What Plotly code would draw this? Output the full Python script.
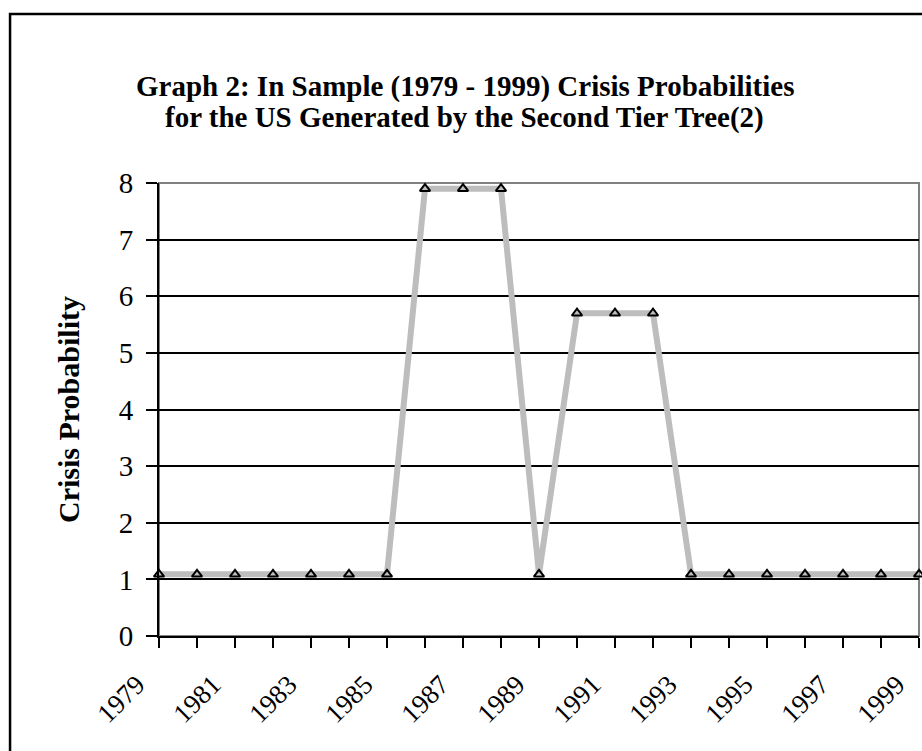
import plotly.graph_objects as go

# Crisis probabilities
years = list(range(1979, 2000))
probs = [1.09, 1.09, 1.09, 1.09, 1.09, 1.09, 1.09,
         7.9, 7.9, 7.9,
         1.09,
         5.7, 5.7, 5.7,
         1.09, 1.09, 1.09, 1.09, 1.09, 1.09, 1.09]
tick_years = list(range(1979, 2000, 2))
y_ticks = list(range(0, 9))
title_lines = ['Graph 2: In Sample (1979 - 1999) Crisis Probabilities',
               'for the US Generated by the Second Tier Tree(2)']

serif = 'Liberation Serif, Times New Roman, serif'

fig = go.Figure()

fig.add_trace(go.Scatter(
    x=years, y=probs,
    mode='lines+markers',
    line=dict(color='#bdbdbd', width=6),
    marker=dict(symbol='triangle-up-open', size=9, color='black',
                line=dict(color='black', width=2)),
    cliponaxis=False,
    showlegend=False,
))

# outer frame (runs off the right and bottom edges like the original)
fig.add_shape(type='rect', xref='paper', yref='paper',
              x0=-0.196, x1=1.05, y0=-0.4, y1=1.373,
              line=dict(color='black', width=2.5))
# grey plot-area border
fig.add_shape(type='rect', xref='paper', yref='paper',
              x0=0, x1=1, y0=0, y1=1,
              line=dict(color='#808080', width=2), layer='below')

# two title lines, set as annotations to get the tighter line spacing
for txt, ypos in zip(title_lines, [1.214, 1.1435]):
    fig.add_annotation(text='<b>' + txt + '</b>', xref='paper', yref='paper',
                       x=0.4026, y=ypos, xanchor='center', yanchor='middle',
                       showarrow=False, font=dict(size=29, family=serif))

fig.update_layout(
    width=922, height=751,
    margin=dict(l=159, r=3, t=183, b=115),
    paper_bgcolor='white', plot_bgcolor='white',
    font=dict(family=serif, color='black'),
    xaxis=dict(
        range=[1979, 1999], tickmode='array', tickvals=tick_years,
        ticktext=[str(y) for y in tick_years],
        tickangle=-45, tickfont=dict(size=27),
        showgrid=False, zeroline=False,
        showline=True, linecolor='black', linewidth=2,
        ticks='outside', ticklen=10, tickwidth=2, tickcolor='black',
        ticklabelstandoff=10, ticklabelshift=-22,
        minor=dict(dtick=1, tick0=1979, ticks='outside', ticklen=10,
                   tickwidth=2, tickcolor='black', showgrid=False),
    ),
    yaxis=dict(
        range=[0, 8], tickvals=y_ticks, tickfont=dict(size=29),
        title=dict(text='<b>Crisis Probability</b>', font=dict(size=30), standoff=30),
        showgrid=True, gridcolor='black', gridwidth=1.5, zeroline=False,
        showline=True, linecolor='black', linewidth=2,
        ticks='outside', ticklen=11, tickwidth=2, tickcolor='black',
        ticklabelstandoff=7,
    ),
)

# drop the default 8px body margin so the figure fills the window exactly
fig.write_html('out.html', config={'displayModeBar': False},
               post_script="document.body.style.margin='0';")
